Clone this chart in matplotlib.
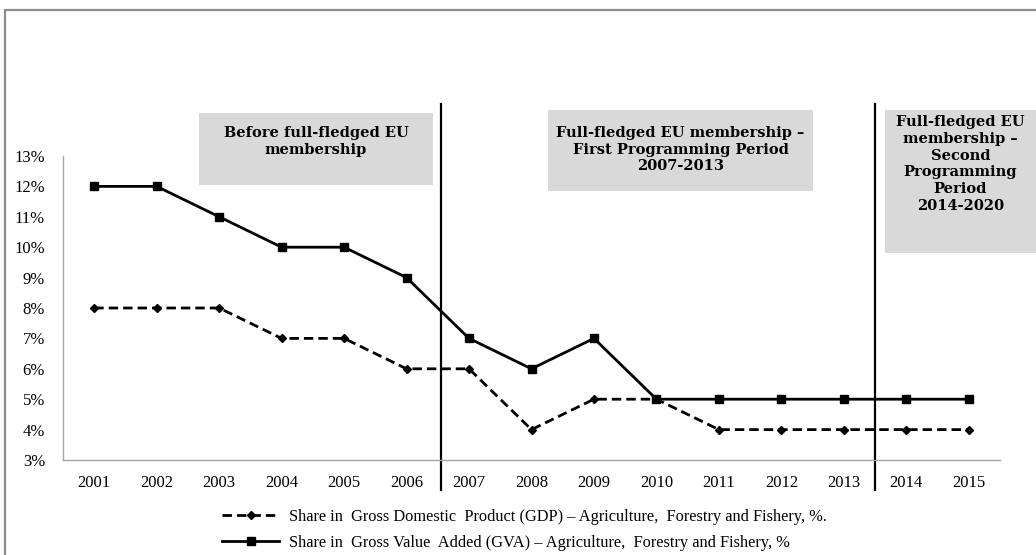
import matplotlib.pyplot as plt
from matplotlib.patches import Rectangle

years = ['2001', '2002', '2003', '2004', '2005', '2006', '2007', '2008',
         '2009', '2010', '2011', '2012', '2013', '2014', '2015']
gdp_share = [8, 8, 8, 7, 7, 6, 6, 4, 5, 5, 4, 4, 4, 4, 4]
gva_share = [12, 12, 11, 10, 10, 9, 7, 6, 7, 5, 5, 5, 5, 5, 5]
y_ticks = [3, 4, 5, 6, 7, 8, 9, 10, 11, 12, 13]

gdp_label = 'Share in  Gross Domestic  Product (GDP) – Agriculture,  Forestry and Fishery, %.'
gva_label = 'Share in  Gross Value  Added (GVA) – Agriculture,  Forestry and Fishery, %'

period_texts = ['Before full-fledged EU\nmembership',
                'Full-fledged EU membership –\nFirst Programming Period\n2007-2013',
                'Full-fledged EU\nmembership –\nSecond\nProgramming\nPeriod\n2014-2020']

plt.rcParams['font.family'] = ['Liberation Serif', 'DejaVu Serif']

W, H = 1036, 555
fig = plt.figure(figsize=(W / 100, H / 100), dpi=100)

# outer frame (gray)
fig.patches.append(Rectangle((5 / W, -0.1), 1.2, 1.1 - 10 / H, transform=fig.transFigure,
                             fill=False, edgecolor='#8c8c8c', linewidth=1.6))

ax = fig.add_axes([63 / W, 1 - 460 / H, (1000 - 63) / W, (460 - 156) / H])
x = list(range(len(years)))

l1, = ax.plot(x, gdp_share, color='black', linestyle=(0, (3.4, 1.8)), linewidth=2,
              marker='D', markersize=4.5, label=gdp_label)
l2, = ax.plot(x, gva_share, color='black', linestyle='-', linewidth=2,
              marker='s', markersize=6, label=gva_label)

ax.set_xlim(-0.5, len(years) - 0.5)
ax.set_ylim(3, 13)
ax.set_xticks(x)
ax.set_xticklabels(years, fontsize=12)
ax.set_yticks(y_ticks)
ax.set_yticklabels([f'{v}%' for v in y_ticks], fontsize=12)
ax.tick_params(axis='both', length=0)
ax.tick_params(axis='x', pad=11)
ax.tick_params(axis='y', pad=13)

for side in ['top', 'right']:
    ax.spines[side].set_visible(False)
for side in ['left', 'bottom']:
    ax.spines[side].set_color('#a6a6a6')
    ax.spines[side].set_linewidth(1)

# period separators
for pos in [5.55, 12.5]:
    ax.axvline(pos, ymin=-0.1, ymax=1.17, color='black', linewidth=1.6, clip_on=False)

# period boxes (figure pixel coordinates) and where their text starts
boxes = [(199, 113, 433, 185), (548, 110, 813, 191), (885, 110, 1040, 253)]
text_tops = [126, 126, 115]
for (x0, y0, x1, y1), top, txt in zip(boxes, text_tops, period_texts):
    fig.patches.append(Rectangle((x0 / W, 1 - y1 / H), (x1 - x0) / W, (y1 - y0) / H,
                                 transform=fig.transFigure, facecolor='#d9d9d9',
                                 edgecolor='none'))
    cx = (x0 + min(x1, W)) / 2
    fig.text(cx / W, 1 - top / H, txt, ha='center', va='top', fontsize=10.5,
             fontweight='bold', family='DejaVu Serif', linespacing=1.25)

fig.legend(handles=[l1, l2], loc='upper left', bbox_to_anchor=(222 / W, 1 - 509 / H),
           frameon=False, fontsize=11.8, handlelength=3.5, handletextpad=0.6,
           labelspacing=0.6, borderpad=0, borderaxespad=0)

fig.savefig('out.png', dpi=100)
